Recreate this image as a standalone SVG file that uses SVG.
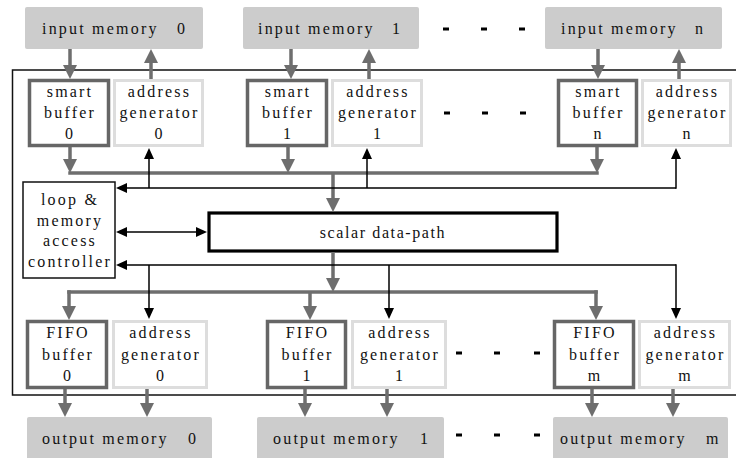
<svg xmlns="http://www.w3.org/2000/svg" width="736" height="458" viewBox="0 0 736 458">
<style>
text{font-family:"Liberation Serif","Times New Roman",serif;font-size:16px;letter-spacing:2.2px;fill:#111}
.c{text-anchor:middle}
.mem{fill:#cccccc;stroke:none}
.buf{fill:#fff;stroke:#666;stroke-width:3.5}
.ag{fill:#fff;stroke:#dddddd;stroke-width:3}
.ctl{fill:#fff;stroke:#111;stroke-width:1.5}
.sdp{fill:#fff;stroke:#000;stroke-width:3.2}
.g{fill:none;stroke:#6e6e6e;stroke-width:3.5}
.ga{fill:none;stroke:#6e6e6e;stroke-width:3.5;marker-end:url(#mg)}
.b{fill:none;stroke:#000;stroke-width:1.5}
.ba{fill:none;stroke:#000;stroke-width:1.5;marker-end:url(#mb)}
.dash{fill:#000;stroke:none}
</style>
<defs>
<marker id="mg" viewBox="0 0 14 14" refX="1" refY="7" markerWidth="14" markerHeight="14" markerUnits="userSpaceOnUse" orient="auto"><path d="M0,0 L14,7 L0,14 z" fill="#6e6e6e"/></marker>
<marker id="mb" viewBox="0 0 11 10" refX="1" refY="5" markerWidth="11" markerHeight="10" markerUnits="userSpaceOnUse" orient="auto-start-reverse"><path d="M0,0 L11,5 L0,10 z" fill="#000"/></marker>
</defs>
<rect width="736" height="458" fill="#fff"/>
<rect id="frame" x="12.5" y="70" width="740" height="325" fill="#fff" stroke="#111" stroke-width="1.5"/>

<g id="input-memory-0"><rect class="mem" x="25" y="7" width="178" height="42" rx="2"/><text x="42" y="34">input memory</text><text x="177" y="34">0</text></g>
<g id="input-memory-1"><rect class="mem" x="243" y="7" width="176" height="42" rx="2"/><text x="258" y="34">input memory</text><text x="392" y="34">1</text></g>
<g id="input-memory-n"><rect class="mem" x="545" y="7" width="177" height="42" rx="2"/><text x="561" y="34">input memory</text><text x="695" y="34">n</text></g>

<g id="smart-buffer-0"><rect class="buf" x="29.5" y="80.5" width="79" height="65"/><text class="c" x="70" y="97">smart</text><text class="c" x="70" y="118">buffer</text><text class="c" x="70" y="139">0</text></g>
<g id="address-generator-in-0"><rect class="ag" x="114.5" y="80.5" width="88" height="65"/><text class="c" x="159.5" y="97">address</text><text class="c" x="159.5" y="118">generator</text><text class="c" x="159.5" y="139">0</text></g>
<g id="smart-buffer-1"><rect class="buf" x="247.5" y="80.5" width="79" height="65"/><text class="c" x="288" y="97">smart</text><text class="c" x="288" y="118">buffer</text><text class="c" x="288" y="139">1</text></g>
<g id="address-generator-in-1"><rect class="ag" x="332.5" y="80.5" width="89" height="65"/><text class="c" x="378" y="97">address</text><text class="c" x="378" y="118">generator</text><text class="c" x="378" y="139">1</text></g>
<g id="smart-buffer-n"><rect class="buf" x="558.5" y="80.5" width="78" height="65"/><text class="c" x="598.5" y="97">smart</text><text class="c" x="598.5" y="118">buffer</text><text class="c" x="598.5" y="139">n</text></g>
<g id="address-generator-in-n"><rect class="ag" x="642.5" y="80.5" width="88" height="65"/><text class="c" x="687.5" y="97">address</text><text class="c" x="687.5" y="118">generator</text><text class="c" x="687.5" y="139">n</text></g>

<g id="controller"><rect class="ctl" x="23" y="182" width="92" height="96"/><text class="c" x="70" y="205">loop &amp;</text><text class="c" x="70" y="226">memory</text><text class="c" x="70" y="246">access</text><text class="c" x="70" y="267">controller</text></g>
<g id="scalar-data-path"><rect class="sdp" x="209" y="213" width="348" height="38"/><text class="c" x="383" y="238" style="letter-spacing:1.6px">scalar data-path</text></g>

<g id="fifo-buffer-0"><rect class="buf" x="27.5" y="321.5" width="79" height="66"/><text class="c" x="68" y="338">FIFO</text><text class="c" x="68" y="360">buffer</text><text class="c" x="68" y="381">0</text></g>
<g id="address-generator-out-0"><rect class="ag" x="113.5" y="321.5" width="93" height="66"/><text class="c" x="161" y="338">address</text><text class="c" x="161" y="360">generator</text><text class="c" x="161" y="381">0</text></g>
<g id="fifo-buffer-1"><rect class="buf" x="267.5" y="321.5" width="78" height="66"/><text class="c" x="307.5" y="338">FIFO</text><text class="c" x="307.5" y="360">buffer</text><text class="c" x="307.5" y="381">1</text></g>
<g id="address-generator-out-1"><rect class="ag" x="352.5" y="321.5" width="93" height="66"/><text class="c" x="400" y="338">address</text><text class="c" x="400" y="360">generator</text><text class="c" x="400" y="381">1</text></g>
<g id="fifo-buffer-m"><rect class="buf" x="554.5" y="321.5" width="79" height="66"/><text class="c" x="595" y="338">FIFO</text><text class="c" x="595" y="360">buffer</text><text class="c" x="595" y="381">m</text></g>
<g id="address-generator-out-m"><rect class="ag" x="639.5" y="321.5" width="90" height="66"/><text class="c" x="685.5" y="338">address</text><text class="c" x="685.5" y="360">generator</text><text class="c" x="685.5" y="381">m</text></g>

<g id="output-memory-0"><rect class="mem" x="27" y="417" width="185" height="48" rx="2"/><text x="42" y="444">output memory</text><text x="188" y="444">0</text></g>
<g id="output-memory-1"><rect class="mem" x="257" y="417" width="187" height="48" rx="2"/><text x="273" y="444">output memory</text><text x="420" y="444">1</text></g>
<g id="output-memory-m"><rect class="mem" x="553" y="417" width="175" height="48" rx="2"/><text x="560" y="444">output memory</text><text x="706" y="444">m</text></g>

<g id="ellipses">
<rect class="dash" x="443" y="27.5" width="6" height="3"/><rect class="dash" x="481" y="27.5" width="6" height="3"/><rect class="dash" x="519" y="27.5" width="6" height="3"/>
<rect class="dash" x="444" y="111.5" width="6" height="3"/><rect class="dash" x="482" y="111.5" width="6" height="3"/><rect class="dash" x="520" y="111.5" width="6" height="3"/>
<rect class="dash" x="456" y="351.5" width="6" height="3"/><rect class="dash" x="494" y="351.5" width="6" height="3"/><rect class="dash" x="534" y="351.5" width="6" height="3"/>
<rect class="dash" x="456" y="433.5" width="6" height="3"/><rect class="dash" x="494" y="433.5" width="6" height="3"/><rect class="dash" x="534" y="433.5" width="6" height="3"/>
</g>

<g id="connectors">
<!-- input memories <-> top row -->
<path class="ga" d="M70,49 V66"/>
<path class="ga" d="M151,79 V62"/>
<path class="ga" d="M291,49 V66"/>
<path class="ga" d="M369,79 V62"/>
<path class="ga" d="M598,49 V66"/>
<path class="ga" d="M679,79 V62"/>
<!-- smart buffers to gray bus -->
<path class="g" d="M68.25,173 H598.75"/>
<path class="ga" d="M70,147 V160"/>
<path class="ga" d="M288,147 V160"/>
<path class="ga" d="M597,147 V160"/>
<path class="ga" d="M333,173 V199"/>
<!-- black bus to address generators (top) -->
<path class="ba" d="M676,188 H126"/>
<path class="ba" d="M676,188.75 V158"/>
<path class="ba" d="M149,188 V158"/>
<path class="ba" d="M367,188 V158"/>
<!-- controller <-> scalar data-path -->
<path class="ba" style="marker-start:url(#mb)" d="M126,232 H197"/>
<!-- scalar data-path to FIFOs -->
<path class="ga" d="M333,252 V279"/>
<path class="g" d="M67.25,292 H597.75"/>
<path class="ga" d="M69,290.25 V307"/>
<path class="ga" d="M310,292 V307"/>
<path class="ga" d="M596,290.25 V307"/>
<!-- controller bus to address generators (bottom) -->
<path class="ba" d="M676,265 H126"/>
<path class="ba" d="M676,264.25 V309"/>
<path class="ba" d="M149,265 V309"/>
<path class="ba" d="M389,265 V309"/>
<!-- bottom row to output memories -->
<path class="ga" d="M65,389 V404"/>
<path class="ga" d="M147,389 V404"/>
<path class="ga" d="M305,389 V404"/>
<path class="ga" d="M387,389 V404"/>
<path class="ga" d="M592,389 V404"/>
<path class="ga" d="M673,389 V404"/>
</g>
</svg>
